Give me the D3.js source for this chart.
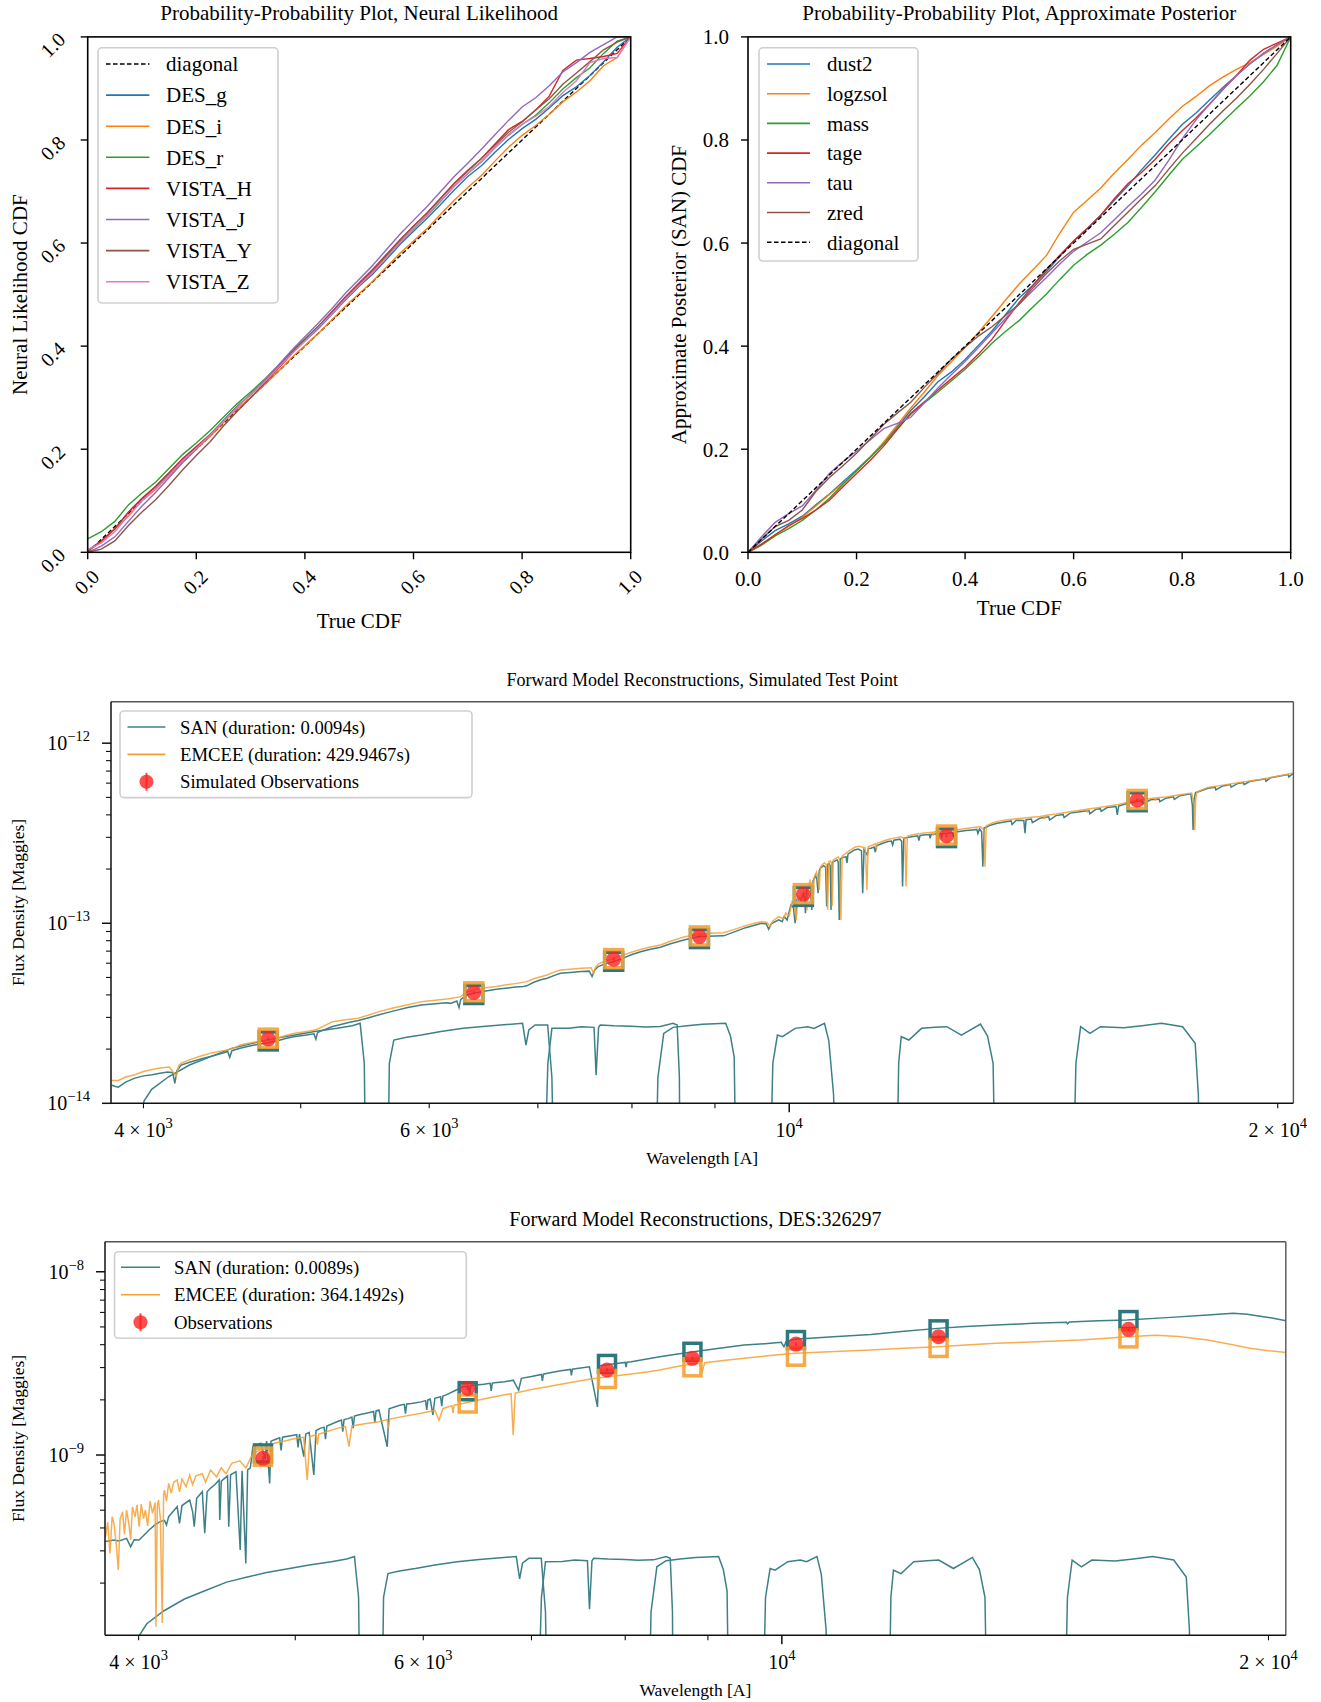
<!DOCTYPE html>
<html>
<head>
<meta charset="utf-8">
<script src="https://cdn.jsdelivr.net/npm/d3@7"></script>
<style>
  body { margin: 0; background: #fff; }
  svg text { font-family: "Liberation Serif", "Times New Roman", serif; fill: #000; }
</style>
</head>
<body>
<svg id="fig" width="1321" height="1702"></svg>
<script>
// ---------- probability-probability plots ----------
const ppX = [0, 0.025, 0.05, 0.075, 0.1, 0.125, 0.15, 0.175, 0.2, 0.225, 0.25, 0.275, 0.3, 0.325, 0.35, 0.375, 0.4, 0.425, 0.45, 0.475, 0.5,
             0.525, 0.55, 0.575, 0.6, 0.625, 0.65, 0.675, 0.7, 0.725, 0.75, 0.775, 0.8, 0.825, 0.85, 0.875, 0.9, 0.925, 0.95, 0.975, 1];
const ppDiagonal = [0, 0.025, 0.05, 0.075, 0.1, 0.125, 0.15, 0.175, 0.2, 0.225, 0.25, 0.275, 0.3, 0.325, 0.35, 0.375, 0.4, 0.425, 0.45, 0.475, 0.5,
                    0.525, 0.55, 0.575, 0.6, 0.625, 0.65, 0.675, 0.7, 0.725, 0.75, 0.775, 0.8, 0.825, 0.85, 0.875, 0.9, 0.925, 0.95, 0.975, 1];
const ppTicks = [0, 0.2, 0.4, 0.6, 0.8, 1];

const nlNames = ["DES_g", "DES_i", "DES_r", "VISTA_H", "VISTA_J", "VISTA_Y", "VISTA_Z"];
const nlDES_g   = [0.004,0.022,0.046,0.078,0.104,0.126,0.152,0.180,0.204,0.228,0.256,0.283,0.306,0.330,0.357,0.385,0.410,0.434,0.462,0.490,0.516,
                   0.540,0.568,0.597,0.623,0.648,0.675,0.703,0.729,0.750,0.776,0.801,0.822,0.840,0.862,0.886,0.903,0.925,0.952,0.980,1.0];
const nlDES_i   = [0.002,0.020,0.045,0.070,0.100,0.122,0.149,0.176,0.201,0.224,0.252,0.278,0.300,0.324,0.350,0.377,0.401,0.425,0.451,0.478,0.502,
                   0.526,0.553,0.580,0.604,0.628,0.656,0.683,0.708,0.731,0.759,0.786,0.809,0.828,0.850,0.874,0.893,0.915,0.944,0.960,1.0];
const nlDES_r   = [0.026,0.040,0.060,0.092,0.115,0.136,0.163,0.190,0.212,0.236,0.262,0.288,0.311,0.335,0.361,0.389,0.414,0.439,0.466,0.494,0.520,
                   0.545,0.573,0.602,0.628,0.653,0.681,0.710,0.735,0.758,0.785,0.810,0.830,0.848,0.872,0.899,0.921,0.940,0.968,0.992,1.0];
const nlVISTA_H = [0.002,0.022,0.045,0.078,0.105,0.128,0.155,0.182,0.205,0.228,0.255,0.282,0.306,0.331,0.358,0.387,0.413,0.438,0.467,0.496,0.522,
                   0.547,0.576,0.606,0.633,0.658,0.687,0.716,0.741,0.764,0.792,0.820,0.836,0.858,0.885,0.935,0.955,0.958,0.962,0.968,1.0];
const nlVISTA_J = [0.000,0.012,0.030,0.060,0.090,0.116,0.145,0.174,0.200,0.226,0.254,0.281,0.307,0.334,0.362,0.391,0.418,0.445,0.473,0.503,0.530,
                   0.557,0.587,0.617,0.644,0.671,0.700,0.729,0.755,0.782,0.810,0.838,0.864,0.882,0.905,0.932,0.950,0.970,0.985,1.0,1.0];
const nlVISTA_Y = [0.000,0.006,0.022,0.052,0.078,0.102,0.130,0.160,0.188,0.214,0.245,0.273,0.300,0.327,0.355,0.384,0.412,0.438,0.467,0.496,0.523,
                   0.549,0.578,0.606,0.632,0.659,0.687,0.715,0.740,0.764,0.790,0.815,0.835,0.858,0.880,0.908,0.930,0.952,0.975,0.990,1.0];
const nlVISTA_Z = [0.005,0.018,0.040,0.072,0.100,0.124,0.150,0.178,0.202,0.227,0.254,0.281,0.306,0.330,0.357,0.385,0.410,0.436,0.463,0.492,0.518,
                   0.544,0.572,0.601,0.628,0.654,0.682,0.710,0.735,0.758,0.785,0.809,0.830,0.846,0.865,0.892,0.915,0.950,0.958,0.960,1.0];
const nlValues = [nlDES_g, nlDES_i, nlDES_r, nlVISTA_H, nlVISTA_J, nlVISTA_Y, nlVISTA_Z];

const apNames = ["dust2", "logzsol", "mass", "tage", "tau", "zred"];
const apDust2   = [0,0.022,0.042,0.055,0.070,0.092,0.113,0.137,0.160,0.185,0.212,0.243,0.275,0.302,0.331,0.350,0.374,0.402,0.430,0.462,0.494,
                   0.518,0.545,0.575,0.604,0.628,0.654,0.683,0.711,0.742,0.771,0.801,0.830,0.852,0.877,0.902,0.925,0.948,0.968,0.985,1];
const apLogzsol = [0,0.016,0.034,0.050,0.068,0.090,0.112,0.134,0.158,0.184,0.214,0.247,0.280,0.311,0.343,0.370,0.398,0.427,0.458,0.490,0.521,
                   0.548,0.576,0.620,0.660,0.683,0.707,0.736,0.762,0.790,0.814,0.840,0.865,0.884,0.905,0.922,0.937,0.950,0.966,0.982,1];
const apMass    = [0,0.014,0.032,0.046,0.062,0.082,0.105,0.132,0.158,0.184,0.210,0.240,0.268,0.290,0.311,0.333,0.355,0.380,0.406,0.429,0.450,
                   0.476,0.501,0.530,0.557,0.578,0.596,0.617,0.640,0.669,0.699,0.731,0.762,0.786,0.810,0.836,0.861,0.886,0.913,0.945,1];
const apTage    = [0,0.016,0.034,0.052,0.066,0.082,0.101,0.127,0.153,0.178,0.206,0.238,0.270,0.292,0.315,0.337,0.359,0.385,0.414,0.450,0.485,
                   0.518,0.549,0.577,0.604,0.628,0.654,0.686,0.715,0.737,0.762,0.792,0.818,0.842,0.869,0.898,0.925,0.955,0.976,0.988,1];
const apTau     = [0,0.030,0.058,0.075,0.090,0.120,0.153,0.176,0.196,0.218,0.240,0.250,0.262,0.290,0.319,0.345,0.370,0.398,0.426,0.454,0.482,
                   0.508,0.533,0.560,0.584,0.602,0.620,0.645,0.671,0.695,0.722,0.760,0.802,0.838,0.869,0.898,0.925,0.948,0.968,0.985,1];
const apZred    = [0,0.026,0.050,0.062,0.082,0.118,0.145,0.168,0.192,0.220,0.248,0.270,0.291,0.320,0.347,0.375,0.398,0.420,0.438,0.460,0.482,
                   0.513,0.541,0.566,0.588,0.598,0.608,0.634,0.660,0.686,0.711,0.743,0.774,0.802,0.830,0.856,0.881,0.908,0.937,0.968,1];
const apValues = [apDust2, apLogzsol, apMass, apTage, apTau, apZred];

const tab10 = ["#1f77b4", "#ff7f0e", "#2ca02c", "#d62728", "#9467bd", "#8c564b", "#e377c2"];

// ---------- forward model reconstructions ----------
const obsWave = [4775, 6392, 7795, 8804, 10203, 12501, 16384];

// simulated test point, fluxes in units of 1e-14 maggies
const simUnit = 1e-14;
const simObs = [2.28, 4.12, 6.31, 8.43, 14.5, 30.6, 48.4];
const simObsErr = [0.05, 0.08, 0.12, 0.15, 0.25, 0.5, 0.8];
const simSanPhot = [2.22, 4.02, 6.15, 8.22, 14.1, 29.9, 47.3];
const simEmceePhot = [2.30, 4.16, 6.36, 8.50, 14.6, 30.9, 48.7];
const simFilterPeak = 2.78;
const simSan = [
  [3824,1.26],[3845,1.24],[3860,1.23],[3900,1.31],[3951,1.38],[4000,1.42],[4050,1.44],[4095,1.47],[4140,1.49],[4170,1.48],[4182,1.29],[4195,1.52],
  [4220,1.63],[4280,1.70],[4340,1.76],[4399,1.82],[4450,1.87],[4508,1.94],[4521,1.80],[4535,1.96],[4588,2.02],[4650,2.08],[4700,2.12],[4776,2.17],
  [4850,2.24],[4900,2.30],[4959,2.35],[5030,2.39],[5095,2.43],[5109,2.27],[5120,2.46],[5135,2.50],[5180,2.58],[5231,2.67],[5300,2.75],[5360,2.82],
  [5426,2.88],[5500,2.98],[5588,3.10],[5700,3.25],[5820,3.40],[5933,3.52],[6050,3.57],[6150,3.62],[6185,3.59],[6240,3.70],[6259,3.40],[6275,3.78],
  [6330,4.00],[6392,4.08],[6500,4.20],[6600,4.30],[6683,4.35],[6780,4.42],[6860,4.46],[6890,4.49],[6960,4.70],[7030,4.85],[7092,4.95],[7160,5.12],
  [7228,5.28],[7330,5.33],[7446,5.39],[7530,5.42],[7560,5.06],[7590,5.50],[7627,5.75],[7700,5.95],[7795,6.12],[7900,6.40],[8000,6.70],[8100,6.95],
  [8200,7.15],[8329,7.36],[8450,7.70],[8600,8.05],[8700,8.25],[8804,8.43],[8900,8.47],[9000,8.50],[9112,8.51],[9250,8.95],[9400,9.45],[9520,9.75],
  [9614,10.0],[9680,9.9],[9712,9.26],[9750,9.95],[9852,10.43],[9900,10.2],[9930,10.9],[9970,10.4],[10025,12.64],[10060,12.2],[10084,10.0],[10110,13.5],
  [10150,13.1],[10202,14.37],[10220,13.8],[10233,11.36],[10250,15.2],[10290,16.5],[10310,15.8],[10325,11.85],[10345,17.2],[10380,18.5],[10400,17.5],
  [10418,14.68],[10435,19.5],[10451,20.2],[10500,20.9],[10530,20.5],[10546,12.4],[10565,21.3],[10580,21.5],[10600,20.8],[10611,11.85],[10630,21.8],
  [10650,22.0],[10704,22.48],[10720,21.9],[10736,10.43],[10755,22.8],[10800,23.3],[10840,23.4],[10855,21.6],[10870,24.2],[10969,25.55],[11030,25.8],
  [11080,25.2],[11099,14.68],[11120,25.6],[11170,24.0],[11190,26.0],[11231,26.1],[11280,26.5],[11300,24.8],[11320,26.9],[11350,27.2],[11430,27.9],
  [11503,28.42],[11560,28.6],[11580,27.2],[11600,28.9],[11700,29.3],[11730,28.5],[11745,15.98],[11765,29.6],[11850,30.0],[11920,30.3],[12000,30.6],
  [12020,28.8],[12040,30.7],[12100,30.9],[12200,31.1],[12215,29.6],[12230,31.2],[12300,31.3],[12400,31.5],[12415,30.2],[12430,31.5],[12504,31.62],
  [12600,31.9],[12620,30.5],[12640,32.0],[12700,32.2],[12850,32.7],[12964,33.0],[13050,33.2],[13070,31.5],[13100,33.4],[13140,32.2],[13162,20.6],
  [13185,33.8],[13300,35.0],[13434,35.9],[13600,36.6],[13700,37.0],[13720,35.3],[13800,37.3],[13950,37.2],[13973,31.6],[13995,37.6],[14100,37.9],
  [14120,36.2],[14269,38.3],[14450,39.0],[14470,37.4],[14600,39.6],[14750,40.2],[14770,38.6],[14900,40.9],[15142,41.7],[15300,42.3],[15320,40.6],
  [15450,42.9],[15550,43.3],[15570,41.8],[15700,43.9],[15900,44.5],[15928,40.0],[15960,44.8],[16150,46.2],[16384,47.4],[16500,47.8],[16520,46.0],
  [16700,48.5],[16900,49.0],[16920,47.3],[17068,49.5],[17250,50.4],[17270,48.8],[17400,51.0],[17680,52.3],[17720,45.0],[17737,33.0],[17760,48.5],
  [17800,53.1],[18116,56.2],[18300,57.0],[18320,55.0],[18500,57.9],[18700,58.9],[18720,57.0],[18900,59.8],[19050,60.5],[19070,58.8],[19214,61.2],
  [19500,62.6],[19650,63.4],[19670,61.5],[19800,64.3],[20100,66.0],[20300,67.0],[20320,65.0],[20452,68.1]
];
const simEmcee = [
  [3824,1.34],[3860,1.34],[3900,1.40],[3951,1.44],[4000,1.50],[4050,1.54],[4095,1.57],[4150,1.59],[4191,1.41],[4205,1.62],[4220,1.67],[4280,1.76],
  [4340,1.83],[4399,1.90],[4450,1.94],[4508,1.98],[4560,2.05],[4588,2.11],[4650,2.16],[4700,2.20],[4776,2.25],[4850,2.32],[4900,2.39],[4959,2.45],
  [5030,2.50],[5100,2.55],[5135,2.61],[5180,2.72],[5231,2.84],[5300,2.89],[5360,2.93],[5426,2.97],[5500,3.08],[5588,3.23],[5700,3.38],[5820,3.53],
  [5933,3.67],[6050,3.74],[6150,3.80],[6270,3.90],[6330,4.15],[6392,4.26],[6500,4.38],[6600,4.46],[6683,4.54],[6780,4.62],[6890,4.74],[6960,4.92],
  [7030,5.05],[7092,5.16],[7160,5.35],[7228,5.50],[7330,5.56],[7446,5.62],[7550,5.66],[7575,5.28],[7600,5.72],[7627,5.95],[7700,6.15],[7795,6.39],
  [7900,6.65],[8000,6.92],[8100,7.15],[8200,7.35],[8329,7.58],[8450,7.95],[8600,8.35],[8700,8.55],[8804,8.72],[8900,8.78],[9000,8.82],[9112,8.86],
  [9250,9.25],[9400,9.7],[9520,10.0],[9614,10.2],[9690,10.1],[9730,9.6],[9770,10.3],[9852,10.87],[9920,10.6],[9950,11.4],[10000,11.0],[10040,13.2],
  [10070,12.8],[10100,10.4],[10125,14.1],[10160,13.6],[10215,15.0],[10240,14.2],[10255,11.8],[10270,15.8],[10300,17.2],[10320,16.3],[10340,12.4],
  [10360,17.9],[10395,19.2],[10415,18.1],[10435,15.3],[10450,20.2],[10470,21.0],[10510,21.6],[10540,21.2],[10560,11.85],[10580,22.1],[10600,22.2],
  [10620,21.5],[10630,12.5],[10645,22.5],[10670,22.8],[10720,23.3],[10740,22.6],[10760,10.43],[10780,23.6],[10820,24.2],[10900,25.4],[10980,26.5],
  [11050,26.8],[11140,26.2],[11165,15.32],[11185,26.6],[11250,27.1],[11300,27.6],[11315,26.0],[11330,27.9],[11370,28.1],[11450,28.8],[11520,29.3],
  [11620,29.8],[11720,30.2],[11785,29.4],[11803,15.98],[11825,30.5],[11900,30.9],[11960,31.2],[12150,31.8],[12250,32.0],[12265,30.6],[12280,32.1],
  [12350,32.2],[12504,32.5],[12700,33.1],[12850,33.6],[12980,34.0],[13120,34.3],[13180,33.0],[13202,20.6],[13225,34.7],[13330,35.9],[13434,36.8],
  [13600,37.4],[13800,38.0],[14000,38.5],[14269,39.2],[14350,39.5],[14365,37.9],[14380,39.7],[14600,40.4],[14900,41.6],[15142,42.5],[15250,42.9],
  [15265,41.2],[15280,43.1],[15450,43.7],[15700,44.7],[15950,45.6],[16150,46.9],[16384,48.2],[16700,49.3],[16800,49.6],[16815,47.8],[16830,49.8],
  [17068,50.3],[17400,51.7],[17700,52.9],[17760,46.0],[17780,33.0],[17800,48.0],[17830,53.6],[18116,56.8],[18500,58.5],[18900,60.3],[19214,61.6],
  [19500,62.9],[19800,64.5],[20100,66.2],[20452,68.3]
];

// DES:326297, fluxes in units of 1e-10 maggies
const desUnit = 1e-10;
const desObs = [9.59, 23.1, 29.1, 33.7, 40.3, 44.2, 48.5];
const desObsErr = [0.25, 0.5, 0.6, 0.7, 0.8, 0.9, 1.0];
const desSanPhot = [10.2, 22.3, 31.4, 36.6, 42.4, 48.5, 54.5];
const desEmceePhot = [9.79, 19.1, 26.0, 30.1, 34.4, 38.4, 43.3];
const desFilterPeak = 2.79;
const desSan = [
  [3816,3.37],[3862,3.44],[3890,3.40],[3932,3.51],[3955,3.16],[3975,3.45],[4003,3.44],[4060,3.9],[4100,4.2],[4125,4.33],[4150,4.4],[4162,4.15],
  [4175,4.61],[4200,4.9],[4226,5.23],[4240,4.24],[4255,5.3],[4302,5.68],[4320,4.9],[4330,4.06],[4345,5.8],[4380,6.31],[4395,3.74],[4410,6.3],
  [4432,6.6],[4460,6.9],[4486,7.31],[4490,4.42],[4500,7.2],[4540,7.7],[4548,4.06],[4560,7.8],[4595,8.11],[4623,3.03],[4635,8.2],[4660,2.56],
  [4672,8.3],[4690,8.5],[4707,11.1],[4760,11.6],[4790,9.5],[4800,11.9],[4821,7.0],[4830,11.9],[4850,12.07],[4890,12.4],[4900,10.6],[4910,12.5],
  [4998,12.85],[5010,12.9],[5020,11.0],[5030,13.0],[5061,9.79],[5075,13.0],[5100,13.3],[5134,7.78],[5150,13.6],[5180,13.98],[5210,14.2],[5220,12.2],
  [5230,14.4],[5306,15.2],[5340,15.5],[5350,13.4],[5360,15.6],[5390,15.8],[5420,16.1],[5430,14.0],[5440,16.3],[5468,16.53],[5550,17.0],[5590,17.3],
  [5600,15.0],[5610,17.4],[5633,17.6],[5700,11.1],[5715,17.9],[5803,18.7],[5840,18.9],[5850,16.8],[5860,19.0],[5900,19.1],[5982,19.5],[6020,19.8],
  [6030,17.6],[6040,20.0],[6060,20.2],[6083,16.53],[6100,20.4],[6150,20.8],[6160,18.5],[6170,21.0],[6199,21.3],[6280,22.5],[6348,23.6],[6400,23.8],
  [6410,21.4],[6420,23.9],[6450,24.0],[6539,24.3],[6600,24.6],[6610,22.4],[6620,24.7],[6640,24.8],[6737,25.1],[6820,25.6],[6873,22.6],[6900,26.2],
  [7000,26.8],[7100,27.5],[7110,25.4],[7120,27.6],[7160,27.9],[7300,28.8],[7400,29.3],[7410,27.2],[7420,29.4],[7450,29.6],[7602,30.3],[7690,18.3],
  [7705,30.6],[7900,31.6],[8000,32.0],[8010,30.2],[8020,32.1],[8070,32.3],[8250,33.4],[8404,34.4],[8600,35.5],[8821,36.6],[9100,38.0],[9477,39.8],
  [9800,40.6],[9990,41.2],[10030,39.0],[10060,41.6],[10185,42.8],[10700,44.0],[11350,45.5],[11900,47.3],[12488,49.1],[13000,50.2],[13571,51.2],
  [14300,52.3],[15000,53.0],[15022,52.0],[15060,53.2],[15700,54.0],[16349,54.5],[17300,56.2],[18342,58.0],[19017,59.3],[19400,58.6],[19720,57.3],
  [20100,56.0],[20507,54.1]
];
const desEmcee = [
  [3816,3.59],[3828,4.3],[3840,2.9],[3852,4.6],[3862,4.24],[3874,3.3],[3886,2.36],[3896,4.5],[3910,4.9],[3920,3.7],[3932,5.01],[3945,4.2],[3955,3.44],
  [3965,5.2],[3980,4.6],[3991,5.34],[4003,4.06],[4015,5.4],[4028,4.5],[4039,5.01],[4052,4.1],[4066,5.6],[4080,4.8],[4095,5.5],[4100,1.16],[4108,5.3],
  [4115,5.68],[4126,4.5],[4137,1.21],[4145,6.1],[4150,6.44],[4162,5.6],[4175,7.0],[4190,6.2],[4205,7.1],[4226,7.31],[4240,6.3],[4255,7.4],[4280,6.7],
  [4302,7.78],[4320,6.9],[4340,7.7],[4380,7.9],[4400,7.1],[4432,8.28],[4470,7.6],[4500,8.5],[4530,7.9],[4568,9.0],[4620,9.3],[4660,8.5],[4707,10.2],
  [4760,10.7],[4800,10.1],[4850,11.6],[4920,11.9],[4998,12.3],[5060,12.5],[5086,7.31],[5105,12.6],[5150,12.9],[5160,11.4],[5170,13.0],[5200,13.2],
  [5306,13.98],[5370,14.3],[5397,11.1],[5420,14.4],[5520,14.8],[5633,15.2],[5700,15.6],[5710,14.0],[5720,15.7],[5800,16.1],[5982,16.9],[6100,17.5],
  [6136,15.5],[6170,17.9],[6250,18.6],[6260,17.0],[6270,18.7],[6348,19.1],[6550,20.3],[6737,21.3],[6800,21.6],[6820,12.85],[6840,21.8],[7000,22.8],
  [7160,23.6],[7400,24.9],[7602,25.9],[7850,26.9],[8070,27.7],[8250,28.4],[8404,29.1],[8600,30.3],[8821,31.6],[8900,31.6],[8927,28.5],[8960,31.9],
  [9200,32.8],[9477,33.7],[9800,34.8],[10185,35.9],[10700,36.6],[11350,37.4],[11900,38.2],[12488,39.0],[13000,39.8],[13571,40.7],[14400,41.5],
  [15289,42.4],[15800,43.3],[16349,44.2],[17042,45.1],[17600,44.3],[18342,42.4],[18900,40.3],[19483,38.2],[20000,37.1],[20507,36.3]
];

// filter transmission curves (normalised to peak 1)
const filtG = [[3985,0.2],[4003,0.37],[4047,0.43],[4145,0.505],[4270,0.587],[4400,0.653],[4534,0.726],[4670,0.774],[4800,0.82],[4959,0.861],[5100,0.90],[5264,0.938],[5380,0.97],[5440,1.0],[5472,0.6],[5490,0.05]];
const filtR = [[5650,0.05],[5670,0.6],[5706,0.808],[5800,0.835],[5933,0.861],[6100,0.9],[6297,0.938],[6500,0.965],[6700,0.985],[6850,1.0],[6883,0.757],[6911,0.92],[6973,0.979],[7098,0.979],[7141,0.5],[7176,0.05]];
const filtI = [[7045,0.05],[7100,0.6],[7141,0.938],[7314,0.94],[7446,0.958],[7581,0.95],[7603,0.516],[7630,0.95],[7649,0.979],[7800,0.97],[7997,0.965],[8150,0.955],[8329,0.96],[8480,1.0],[8530,0.98],[8557,0.5],[8570,0.05]];
const filtZ = [[8255,0.05],[8300,0.5],[8369,0.88],[8480,0.95],[8650,0.97],[8842,0.99],[9000,0.995],[9138,1.0],[9200,0.85],[9249,0.65],[9287,0.05]];
const filtY = [[9710,0.05],[9770,0.6],[9834,0.861],[9904,0.843],[10084,0.938],[10266,0.958],[10358,0.938],[10513,1.0],[10578,0.8],[10650,0.4],[10704,0.05]];
const filtJ = [[11630,0.05],[11680,0.6],[11723,0.843],[11851,0.808],[12066,0.938],[12300,0.95],[12504,0.958],[12768,0.861],[13118,0.99],[13250,0.85],[13355,0.6],[13420,0.05]];
const filtH = [[14930,0.05],[15020,0.6],[15121,0.958],[15322,0.88],[15552,0.958],[16073,0.945],[16500,0.97],[16959,1.0],[17475,0.958],[17790,0.774],[17870,0.4],[17940,0.05]];
const filterCurves = [filtG, filtR, filtI, filtZ, filtY, filtJ, filtH];

const sanColor = "#3d8088";
const emceeColor = "#f5a033";
const obsColor = "#ff1f1f";

// ---------- drawing ----------
const svg = d3.select("#fig");
const defs = svg.append("defs");
let clipCount = 0;
function addClip(x0, y0, x1, y1) {
  const id = "clip" + (clipCount++);
  defs.append("clipPath").attr("id", id).append("rect")
    .attr("x", x0).attr("y", y0).attr("width", x1 - x0).attr("height", y1 - y0);
  return "url(#" + id + ")";
}

function drawLegend(g, box, rows, fontSize) {
  g.append("rect")
    .attr("x", box.x0).attr("y", box.y0)
    .attr("width", box.x1 - box.x0).attr("height", box.y1 - box.y0)
    .attr("rx", 4).attr("fill", "#fff").attr("fill-opacity", 0.85)
    .attr("stroke", "#cfcfcf").attr("stroke-width", 1.6);
  rows.forEach((r, i) => {
    const yy = box.first + i * box.step;
    if (r.marker) {
      const cx = (box.h0 + box.h1) / 2;
      g.append("line").attr("x1", cx).attr("x2", cx).attr("y1", yy - 9).attr("y2", yy + 9)
        .attr("stroke", obsColor).attr("stroke-opacity", 0.8).attr("stroke-width", 2);
      g.append("circle").attr("cx", cx).attr("cy", yy).attr("r", 7)
        .attr("fill", obsColor).attr("fill-opacity", 0.8);
    } else {
      g.append("line").attr("x1", box.h0).attr("x2", box.h1).attr("y1", yy).attr("y2", yy)
        .attr("stroke", r.color).attr("stroke-width", 1.6)
        .attr("stroke-dasharray", r.dash || null);
    }
    g.append("text").attr("x", box.tx).attr("y", yy).attr("dy", "0.35em")
      .attr("font-size", fontSize).text(r.label);
  });
}

function ppPanel(p) {
  const g = svg.append("g");
  const x = d3.scaleLinear().domain([0, 1]).range([p.left, p.right]);
  const y = d3.scaleLinear().domain([0, 1]).range([p.bottom, p.top]);
  const line = d3.line().x((d, i) => x(ppX[i])).y(d => y(d));
  const plot = g.append("g").attr("clip-path", addClip(p.left, p.top - 2, p.right + 2, p.bottom));
  p.series.forEach(s => {
    plot.append("path").attr("d", line(s.values)).attr("fill", "none")
      .attr("stroke", s.color).attr("stroke-width", 1.4)
      .attr("stroke-dasharray", s.dash || null);
  });
  g.append("rect").attr("x", p.left).attr("y", p.top)
    .attr("width", p.right - p.left).attr("height", p.bottom - p.top)
    .attr("fill", "none").attr("stroke", "#000").attr("stroke-width", 1.6);

  const fmt = d3.format(".1f");
  ppTicks.forEach(t => {
    g.append("line").attr("x1", x(t)).attr("x2", x(t)).attr("y1", p.bottom).attr("y2", p.bottom + 7)
      .attr("stroke", "#000").attr("stroke-width", 1.4);
    g.append("line").attr("x1", p.left - 7).attr("x2", p.left).attr("y1", y(t)).attr("y2", y(t))
      .attr("stroke", "#000").attr("stroke-width", 1.4);
    if (p.rotated) {
      g.append("text").attr("transform", `translate(${x(t) - 1},582) rotate(-45)`)
        .attr("text-anchor", "middle").attr("dy", "0.35em").attr("font-size", 20).text(fmt(t));
      g.append("text").attr("transform", `translate(${p.left - 35},${y(t) + 8}) rotate(-45)`)
        .attr("text-anchor", "middle").attr("dy", "0.35em").attr("font-size", 20).text(fmt(t));
    } else {
      g.append("text").attr("x", x(t)).attr("y", 586)
        .attr("text-anchor", "middle").attr("font-size", 21).text(fmt(t));
      g.append("text").attr("x", p.left - 19).attr("y", y(t) + 7.5)
        .attr("text-anchor", "end").attr("font-size", 21).text(fmt(t));
    }
  });

  const cx = (p.left + p.right) / 2;
  g.append("text").attr("x", cx).attr("y", 20).attr("text-anchor", "middle")
    .attr("font-size", 21).text(p.title);
  g.append("text").attr("x", cx).attr("y", p.xLabelY).attr("text-anchor", "middle")
    .attr("font-size", 21).text("True CDF");
  g.append("text").attr("transform", `translate(${p.yLabelX},${(p.top + p.bottom) / 2}) rotate(-90)`)
    .attr("text-anchor", "middle").attr("font-size", 21).text(p.yLabel);

  drawLegend(g, p.legend, p.series.map(s => ({ label: s.name, color: s.color, dash: s.dash })), 21);
}

const diagSeries = { name: "diagonal", values: ppDiagonal, color: "#000", dash: "4.5,2.5" };

ppPanel({
  left: 87.7, right: 630.7, top: 36.9, bottom: 552.3, rotated: true,
  title: "Probability-Probability Plot, Neural Likelihood",
  yLabel: "Neural Likelihood CDF", xLabelY: 628, yLabelX: 27,
  series: [diagSeries].concat(nlNames.map((n, i) => ({ name: n, values: nlValues[i], color: tab10[i] }))),
  legend: { x0: 98, x1: 278, y0: 47.8, y1: 303, first: 64, step: 31.1, h0: 106, h1: 149.4, tx: 166 }
});

ppPanel({
  left: 748, right: 1290.7, top: 36.9, bottom: 552.3, rotated: false,
  title: "Probability-Probability Plot, Approximate Posterior",
  yLabel: "Approximate Posterior (SAN) CDF", xLabelY: 615, yLabelX: 686,
  series: apNames.map((n, i) => ({ name: n, values: apValues[i], color: tab10[i] })).concat([diagSeries]),
  legend: { x0: 759, x1: 918, y0: 47.8, y1: 261, first: 64, step: 29.7, h0: 767, h1: 810, tx: 827 }
});

function specPanel(p) {
  const g = svg.append("g");
  const x = d3.scaleLog().domain(p.xDomain).range([p.left, p.right]);
  const y = d3.scaleLog().domain(p.yDomain).range([p.bottom, p.top]);
  const line = d3.line().x(d => x(d[0])).y(d => y(d[1] * p.unit));
  const plot = g.append("g").attr("clip-path", addClip(p.left, p.top, p.right, p.bottom));

  filterCurves.forEach(f => {
    plot.append("path").attr("d", line(f.map(d => [d[0], d[1] * p.filterPeak])))
      .attr("fill", "none").attr("stroke", sanColor).attr("stroke-width", 1.5);
  });
  plot.append("path").attr("d", line(p.san)).attr("fill", "none")
    .attr("stroke", sanColor).attr("stroke-width", 1.5);
  plot.append("path").attr("d", line(p.emcee)).attr("fill", "none")
    .attr("stroke", emceeColor).attr("stroke-opacity", 0.85).attr("stroke-width", 1.5);

  const s = p.squareSize;
  obsWave.forEach((w, i) => {
    plot.append("rect").attr("x", x(w) - s / 2).attr("y", y(p.sanPhot[i] * p.unit) - s / 2)
      .attr("width", s).attr("height", s).attr("fill", "none")
      .attr("stroke", "#2f777f").attr("stroke-width", 3.5);
    plot.append("rect").attr("x", x(w) - s / 2).attr("y", y(p.emceePhot[i] * p.unit) - s / 2)
      .attr("width", s).attr("height", s).attr("fill", "none")
      .attr("stroke", emceeColor).attr("stroke-opacity", 0.9).attr("stroke-width", 3.5);
  });
  obsWave.forEach((w, i) => {
    const v = p.obs[i], e = p.obsErr[i];
    plot.append("line").attr("x1", x(w)).attr("x2", x(w))
      .attr("y1", y((v - e) * p.unit)).attr("y2", y((v + e) * p.unit))
      .attr("stroke", obsColor).attr("stroke-width", 2).attr("stroke-opacity", 0.8);
    plot.append("circle").attr("cx", x(w)).attr("cy", y(v * p.unit)).attr("r", 7.5)
      .attr("fill", obsColor).attr("fill-opacity", 0.8);
  });

  // frame
  g.append("line").attr("x1", p.left).attr("x2", p.right).attr("y1", p.top).attr("y2", p.top)
    .attr("stroke", "#555").attr("stroke-width", 1.4);
  g.append("line").attr("x1", p.right).attr("x2", p.right).attr("y1", p.top).attr("y2", p.bottom)
    .attr("stroke", "#555").attr("stroke-width", 1.4);
  g.append("line").attr("x1", p.left).attr("x2", p.right).attr("y1", p.bottom).attr("y2", p.bottom)
    .attr("stroke", "#111").attr("stroke-width", 1.5);
  g.append("line").attr("x1", p.left).attr("x2", p.left).attr("y1", p.top).attr("y2", p.bottom)
    .attr("stroke", "#111").attr("stroke-width", 1.5);

  // y ticks (log)
  y.ticks().forEach(v => {
    const e = Math.log10(v);
    const major = Math.abs(e - Math.round(e)) < 1e-6;
    const yy = y(v);
    g.append("line").attr("x1", p.left - (major ? 9 : 5)).attr("x2", p.left).attr("y1", yy).attr("y2", yy)
      .attr("stroke", "#111").attr("stroke-width", major ? 1.5 : 1.1);
    if (major) {
      const t = g.append("text").attr("x", p.left - 21).attr("y", yy + 7)
        .attr("text-anchor", "end").attr("font-size", 20);
      t.append("tspan").text("10");
      t.append("tspan").attr("dy", -9).attr("font-size", 14.5).text("\u2212" + Math.abs(Math.round(e)));
    }
  });

  // x ticks (log)
  const xLabels = { 4000: ["4 \u00d7 10", "3"], 6000: ["6 \u00d7 10", "3"], 10000: ["10", "4"], 20000: ["2 \u00d7 10", "4"] };
  x.ticks().forEach(v => {
    const xx = x(v);
    const major = v === 10000;
    g.append("line").attr("x1", xx).attr("x2", xx).attr("y1", p.bottom).attr("y2", p.bottom + (major ? 9 : 5))
      .attr("stroke", "#111").attr("stroke-width", major ? 1.5 : 1.1);
    if (xLabels[v]) {
      const t = g.append("text").attr("x", xx).attr("y", p.bottom + 34)
        .attr("text-anchor", "middle").attr("font-size", 20);
      t.append("tspan").text(xLabels[v][0]);
      t.append("tspan").attr("dy", -9).attr("font-size", 14.5).text(xLabels[v][1]);
    }
  });

  const cx = (p.left + p.right) / 2;
  g.append("text").attr("x", cx).attr("y", p.titleY).attr("text-anchor", "middle")
    .attr("font-size", p.titleSize).text(p.title);
  g.append("text").attr("x", cx).attr("y", p.xLabelY).attr("text-anchor", "middle")
    .attr("font-size", 17.5).text("Wavelength [A]");
  g.append("text").attr("transform", `translate(24,${(p.top + p.bottom) / 2}) rotate(-90)`)
    .attr("text-anchor", "middle").attr("font-size", 17.5).text("Flux Density [Maggies]");

  drawLegend(g, p.legend, [
    { label: p.sanLabel, color: sanColor },
    { label: p.emceeLabel, color: emceeColor },
    { label: p.obsLabel, marker: true }
  ], 18.7);
}

specPanel({
  left: 111, right: 1293.4, top: 701.7, bottom: 1103.3,
  xDomain: [3820, 20450], yDomain: [1e-14, 1.70e-12],
  unit: simUnit, filterPeak: simFilterPeak, squareSize: 18,
  san: simSan, emcee: simEmcee, obs: simObs, obsErr: simObsErr,
  sanPhot: simSanPhot, emceePhot: simEmceePhot,
  title: "Forward Model Reconstructions, Simulated Test Point", titleY: 686, titleSize: 18,
  xLabelY: 1164,
  sanLabel: "SAN (duration: 0.0094s)", emceeLabel: "EMCEE (duration: 429.9467s)", obsLabel: "Simulated Observations",
  legend: { x0: 120, x1: 472, y0: 711, y1: 797.6, first: 727, step: 27.4, h0: 127.5, h1: 165.4, tx: 180 }
});

specPanel({
  left: 105, right: 1285.8, top: 1241.7, bottom: 1635.3,
  xDomain: [3813, 20500], yDomain: [1.038e-10, 1.459e-8],
  unit: desUnit, filterPeak: desFilterPeak, squareSize: 17,
  san: desSan, emcee: desEmcee, obs: desObs, obsErr: desObsErr,
  sanPhot: desSanPhot, emceePhot: desEmceePhot,
  title: "Forward Model Reconstructions, DES:326297", titleY: 1226, titleSize: 20,
  xLabelY: 1696,
  sanLabel: "SAN (duration: 0.0089s)", emceeLabel: "EMCEE (duration: 364.1492s)", obsLabel: "Observations",
  legend: { x0: 114.5, x1: 466.3, y0: 1251.7, y1: 1338.3, first: 1267.3, step: 27.5, h0: 121, h1: 160, tx: 174 }
});
</script>
</body>
</html>
